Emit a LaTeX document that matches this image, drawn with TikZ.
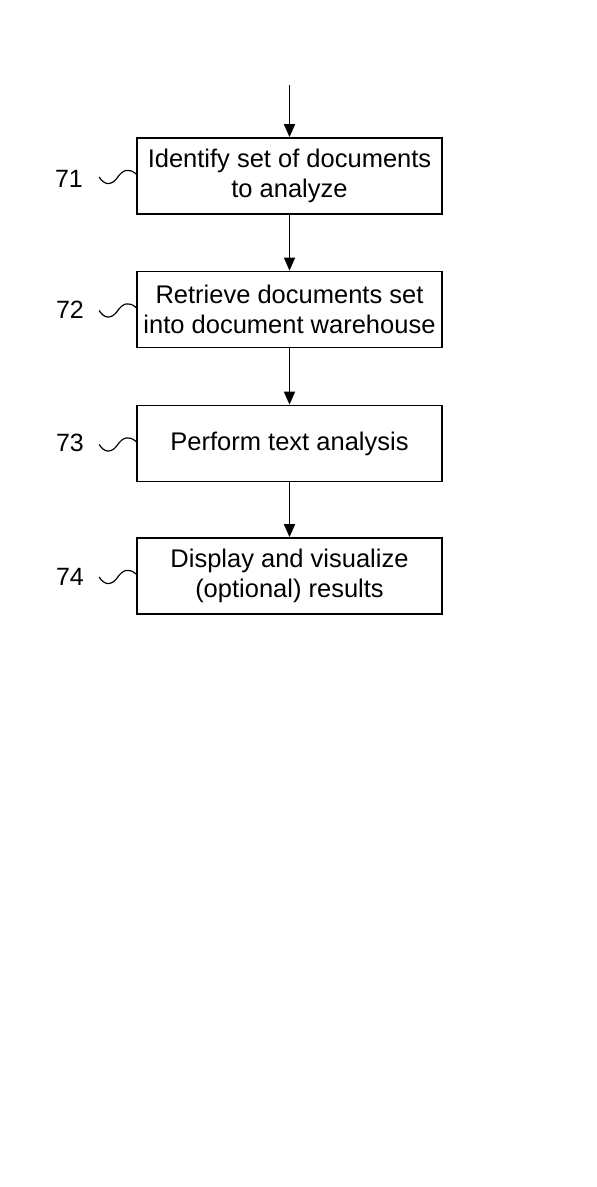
\documentclass[tikz,border=0pt]{standalone}
\usepackage{fontspec}
\setmainfont{Liberation Sans}
\usetikzlibrary{arrows.meta}
\begin{document}
\begin{tikzpicture}[x=1pt,y=-1pt,
  stepbox/.style={draw, line width=1.8pt, minimum width=305pt, minimum height=76pt,
    inner sep=0pt, align=center, font=\fontsize{25.5}{30}\selectfont},
  reflabel/.style={font=\fontsize{25}{28}\selectfont},
  flow/.style={line width=1.8pt, -{Triangle[length=13pt,width=11pt]}},
  squig/.style={line width=1.2pt}]
\useasboundingbox[fill=white] (0,0) rectangle (597,1187);
\node[stepbox] (b1) at (289.5,176) {Identify set of documents\\to analyze};
\node[stepbox] (b2) at (289.5,309.5) {Retrieve documents set\\into document warehouse};
\node[stepbox] (b3) at (289.5,443.5) {Perform text analysis};
\node[stepbox] (b4) at (289.5,576) {Display and visualize\\(optional) results};
\node[reflabel] (l1) at (69,179) {71};
\node[reflabel] (l2) at (70,310) {72};
\node[reflabel] (l3) at (70,443) {73};
\node[reflabel] (l4) at (70,577) {74};
\coordinate (start) at (289.5,85);
\draw[flow] (start) -- (b1.north);
\draw[flow] (b1) -- (b2);
\draw[flow] (b2) -- (b3);
\draw[flow] (b3) -- (b4);
\foreach \b in {b1,b2,b3,b4}{
  \begin{scope}[shift={(\b.west)}]
    \draw[squig] (-37,1) .. controls (-32,9) and (-25,10) .. (-19,2)
      .. controls (-13,-7) and (-7,-8) .. (0,-2);
  \end{scope}
}
\end{tikzpicture}
\end{document}
